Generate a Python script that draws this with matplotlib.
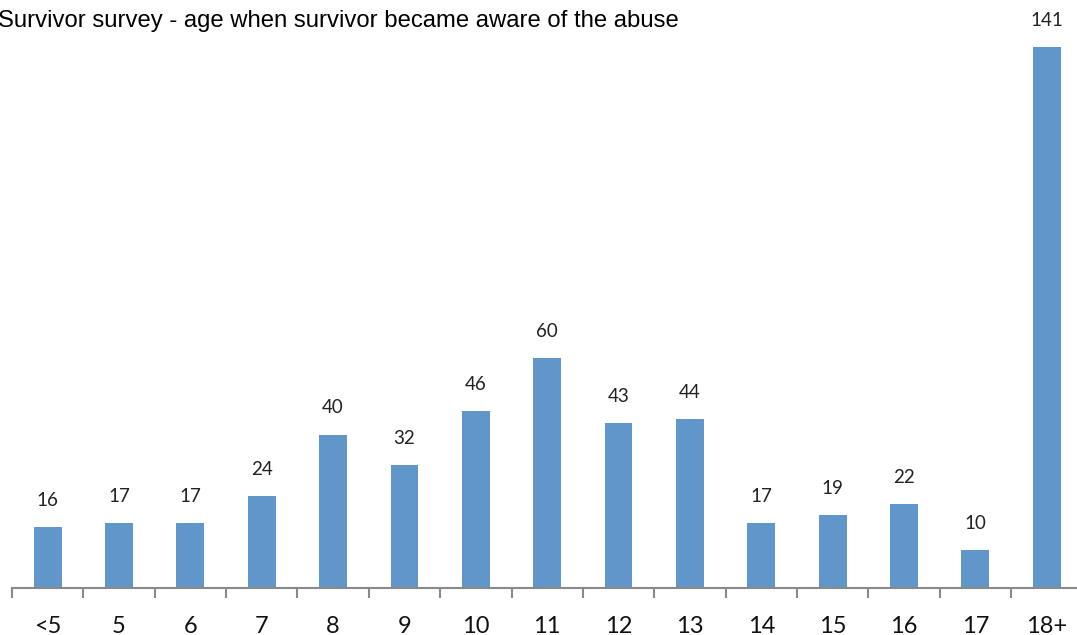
import matplotlib
matplotlib.use('Agg')
import matplotlib.pyplot as plt
import numpy as np

# データ
categories = ['<5', '5', '6', '7', '8', '9', '10', '11', '12', '13', '14', '15', '16', '17', '18+']
counts = [16, 17, 17, 24, 40, 32, 46, 60, 43, 44, 17, 19, 22, 10, 141]

bar_color = '#6096C9'
axis_color = '#898989'

fig = plt.figure(figsize=(10.77, 6.35), dpi=100)
# 軸の位置（右端は画像外にはみ出している）
ax = fig.add_axes([12 / 1077, 47 / 635, 1 - 12 / 1077, 588 / 635])

x = np.arange(len(categories))
bars = ax.bar(x, counts, width=0.39, color=bar_color, zorder=2)

ax.set_xlim(-0.5, -0.5 + (1077 - 12) / 71.36)
ax.set_ylim(0, 588 / 3.837)

# 値ラベル
for xi, v in zip(x, counts):
    ax.annotate(str(v), (xi, v), xytext=(0, 13), textcoords='offset points',
                ha='center', va='bottom', fontsize=13.5, family='Lato', color='#222222')

# 軸
for s in ['top', 'right', 'left']:
    ax.spines[s].set_visible(False)
ax.spines['bottom'].set_color(axis_color)
ax.spines['bottom'].set_linewidth(1.5)
ax.set_yticks([])
ax.set_xticks(x)
ax.set_xticklabels(categories, fontsize=17, family='Lato', color='#111111')
ax.tick_params(axis='x', which='major', length=0, pad=20)
ax.set_xticks(np.arange(len(categories)) - 0.5, minor=True)
ax.tick_params(axis='x', which='minor', length=7, width=1.5, color=axis_color, direction='out')

# タイトル
fig.text(-2 / 1077, 1 - 21 / 635, 'Survivor survey - age when survivor became aware of the abuse',
         ha='left', va='center', fontsize=17.2, family='Liberation Sans', color='black')

plt.savefig('out.png', dpi=100)
